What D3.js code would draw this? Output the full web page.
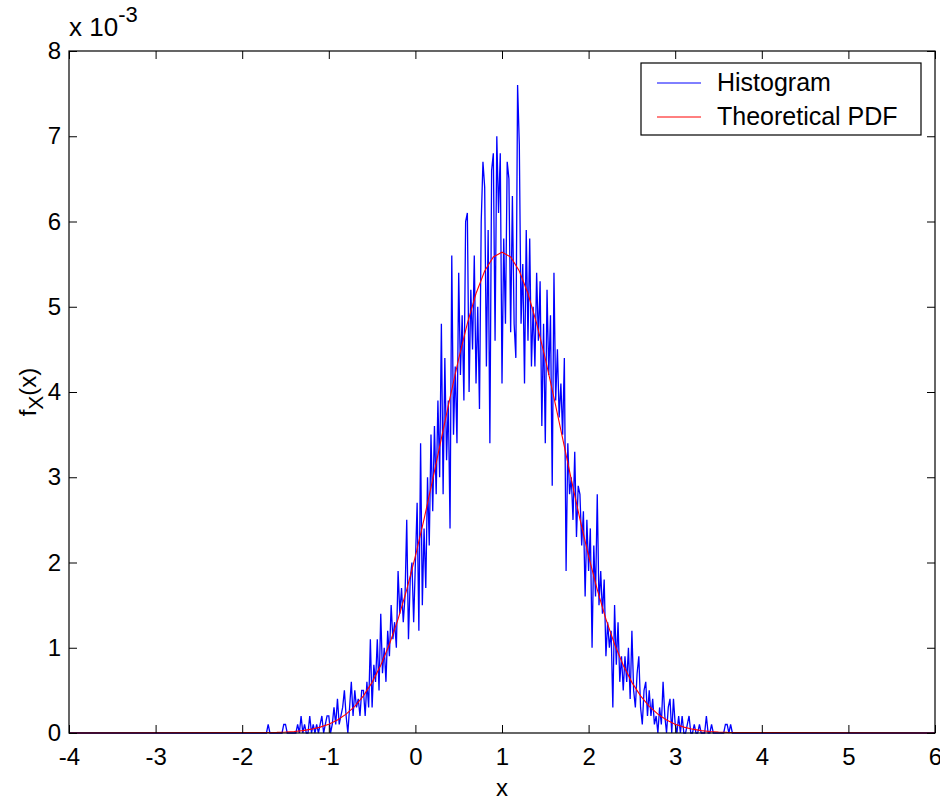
<!DOCTYPE html>
<html>
<head>
<meta charset="utf-8">
<script src="https://cdn.jsdelivr.net/npm/d3@7"></script>
<style>
  body { margin: 0; background: #fff; }
  svg text { font-family: "Liberation Sans", Arial, sans-serif; fill: #000; }
</style>
</head>
<body>
<svg width="940" height="802"></svg>
<script>
// Values are in units of 1e-3 (the axis shows "x 10^-3")
let histStart = -1.72;
let histStep = 0.02;
let histValues = [
    0,
    0.1, 0, 0, 0, 0,
    0, 0, 0, 0, 0.1,
    0.1, 0, 0, 0, 0,
    0, 0, 0.1, 0, 0.2,
    0, 0.1, 0, 0, 0.2,
    0, 0.1, 0, 0.1, 0,
    0.1, 0.2, 0, 0.1, 0.2,
    0.2, 0, 0.1, 0.3, 0.1,
    0.4, 0.1, 0.2, 0.3, 0.5,
    0.2, 0, 0.3, 0.6, 0.2,
    0.5, 0.3, 0.4, 0.2, 0.5,
    0.5, 0.2, 0.6, 0.3, 1.1,
    0.3, 0.8, 0.6, 1.1, 0.5,
    1.4, 0.7, 1.0, 0.6, 1.2,
    0.9, 1.5, 1.1, 1.3, 1.0,
    1.9, 1.4, 1.7, 1.3, 1.6,
    2.5, 1.1, 1.8, 2.0, 1.3,
    2.0, 2.7, 1.2, 3.4, 1.5,
    2.4, 1.7, 3.0, 2.2, 3.5,
    2.6, 3.6, 2.8, 3.9, 3.0,
    4.8, 2.8, 4.4, 3.2, 3.9,
    2.4, 5.6, 3.5, 4.3, 3.4,
    5.4, 4.2, 4.9, 3.9, 6.0,
    6.1, 4.0, 5.2, 4.5, 5.6,
    4.1, 5.0, 3.8, 6.0, 6.7,
    6.4, 4.3, 5.9, 3.4, 6.6,
    6.8, 4.6, 7.0, 6.1, 6.8,
    4.1, 5.8, 4.8, 6.7, 6.5,
    4.7, 6.3, 4.8, 4.4, 7.6,
    6.9, 4.8, 5.5, 4.1, 5.9,
    4.6, 5.8, 4.3, 5.0, 4.3,
    5.4, 4.6, 5.3, 3.6, 4.8,
    3.4, 5.2, 4.2, 4.9, 2.9,
    5.4, 3.9, 4.5, 3.7, 4.1,
    3.5, 4.4, 1.9, 3.4, 2.8,
    3.0, 2.5, 3.3, 2.3, 2.9,
    2.8, 2.2, 2.6, 1.6, 2.5,
    1.9, 2.4, 1.0, 2.2, 1.6,
    2.8, 1.5, 1.9, 1.4, 1.8,
    0.9, 1.3, 1.0, 1.2, 0.3,
    1.5, 0.8, 1.3, 0.6, 0.9,
    0.5, 0.9, 0.6, 1.0, 0.4,
    1.2, 0.5, 0.3, 0.7, 0.9,
    0.3, 0.1, 0.5, 0.6, 0.2,
    0.5, 0.2, 0.4, 0.1, 0.2,
    0, 0.3, 0.1, 0.6, 0.2,
    0, 0.3, 0.4, 0, 0.4,
    0.1, 0, 0.2, 0, 0.2,
    0, 0, 0.1, 0.2, 0,
    0, 0.1, 0, 0, 0.1,
    0, 0, 0, 0.2, 0,
    0, 0.1, 0, 0, 0,
    0, 0, 0, 0, 0.1,
    0.1, 0, 0.1, 0, 0,
    0, 0
];

// theoretical pdf, every 0.1 from -1.6 to 3.6
let pdfStart = -1.6;
let pdfStep = 0.1;
let pdfValues = [
    0.007, 0.011, 0.018, 0.028, 0.045, 0.069, 0.103, 0.153, 0.221, 0.313,
    0.436, 0.594, 0.795, 1.041, 1.336, 1.682, 2.075, 2.509, 2.974, 3.455,
    3.935, 4.392, 4.806, 5.155, 5.419, 5.584, 5.640, 5.584, 5.419, 5.155,
    4.806, 4.392, 3.935, 3.455, 2.974, 2.509, 2.075, 1.682, 1.336, 1.041,
    0.795, 0.594, 0.436, 0.313, 0.221, 0.153, 0.103, 0.069, 0.045, 0.028,
    0.018, 0.011, 0.007
];

let xTicks = [-4, -3, -2, -1, 0, 1, 2, 3, 4, 5, 6];
let yTicks = [0, 1, 2, 3, 4, 5, 6, 7, 8];
let legendLabels = ["Histogram", "Theoretical PDF"];
let seriesColors = ["#0000ff", "#ff0000"];

let svg = d3.select("svg");
let plotLeft = 69, plotRight = 935, plotTop = 51, plotBottom = 733;
let fontSize = 24;

let x = d3.scaleLinear().domain([-4, 6]).range([plotLeft, plotRight]);
let y = d3.scaleLinear().domain([0, 8]).range([plotBottom, plotTop]);

// build series, padded with zeros out to the axis limits
let histData = [[-4, 0]];
histValues.forEach((v, i) => histData.push([histStart + i * histStep, v]));
histData.push([6, 0]);

let pdfData = [[-4, 0]];
pdfValues.forEach((v, i) => pdfData.push([pdfStart + i * pdfStep, v]));
pdfData.push([6, 0]);

let line = d3.line().x(d => x(d[0])).y(d => y(d[1]));

let plot = svg.append("g").attr("class", "plot");
plot.append("path")
    .datum(histData)
    .attr("d", line)
    .attr("fill", "none")
    .attr("stroke", seriesColors[0])
    .attr("stroke-width", 1.3);
plot.append("path")
    .datum(pdfData)
    .attr("d", line)
    .attr("fill", "none")
    .attr("stroke", seriesColors[1])
    .attr("stroke-width", 1.1);

// axes, ticks pointing inwards like matlab
function styleAxis(g) {
    g.select(".domain").remove();
    g.selectAll(".tick line").attr("stroke", "#000");
    g.selectAll("text").attr("font-size", fontSize).attr("font-family", null);
}

svg.append("g")
    .attr("transform", `translate(0,${plotBottom})`)
    .call(d3.axisBottom(x).tickValues(xTicks).tickSize(-8).tickPadding(15).tickFormat(d3.format("d")))
    .call(styleAxis);
svg.append("g")
    .attr("transform", `translate(0,${plotTop})`)
    .call(d3.axisTop(x).tickValues(xTicks).tickSize(-8).tickFormat(""))
    .call(styleAxis);
svg.append("g")
    .attr("transform", `translate(${plotLeft},0)`)
    .call(d3.axisLeft(y).tickValues(yTicks).tickSize(-8).tickPadding(8).tickFormat(d3.format("d")))
    .call(styleAxis);
svg.append("g")
    .attr("transform", `translate(${plotRight},0)`)
    .call(d3.axisRight(y).tickValues(yTicks).tickSize(-8).tickFormat(""))
    .call(styleAxis);

// plain hyphen for negatives, like the original
svg.selectAll(".tick text").text(function () { return this.textContent.replace("\u2212", "-"); });

svg.append("rect")
    .attr("x", plotLeft).attr("y", plotTop)
    .attr("width", plotRight - plotLeft).attr("height", plotBottom - plotTop)
    .attr("fill", "none").attr("stroke", "#000").attr("stroke-width", 1.2);

// exponent label
let expo = svg.append("text").attr("x", plotLeft).attr("y", 36).attr("font-size", 26);
expo.append("tspan").text("x 10");
expo.append("tspan").attr("dy", -14).attr("font-size", 22).text("-3");

// axis titles
svg.append("text")
    .attr("x", (plotLeft + plotRight) / 2).attr("y", 796)
    .attr("text-anchor", "middle").attr("font-size", fontSize)
    .text("x");

let ylab = svg.append("text")
    .attr("transform", `translate(36,${(plotTop + plotBottom) / 2}) rotate(-90)`)
    .attr("text-anchor", "middle").attr("font-size", fontSize);
ylab.append("tspan").text("f");
ylab.append("tspan").attr("dy", 7).attr("font-size", 21).text("X");
ylab.append("tspan").attr("dy", -7).text("(x)");

// legend
let legend = svg.append("g").attr("class", "legend");
legend.append("rect")
    .attr("x", 641).attr("y", 63).attr("width", 280).attr("height", 72)
    .attr("fill", "#fff").attr("stroke", "#000").attr("stroke-width", 1.2);
legendLabels.forEach((label, i) => {
    let ly = 83 + i * 34;
    legend.append("line")
        .attr("x1", 657).attr("x2", 701).attr("y1", ly).attr("y2", ly)
        .attr("stroke", seriesColors[i]).attr("stroke-width", 1);
    legend.append("text")
        .attr("x", 717).attr("y", ly + 8)
        .attr("font-size", 25)
        .text(label);
});
</script>
</body>
</html>
